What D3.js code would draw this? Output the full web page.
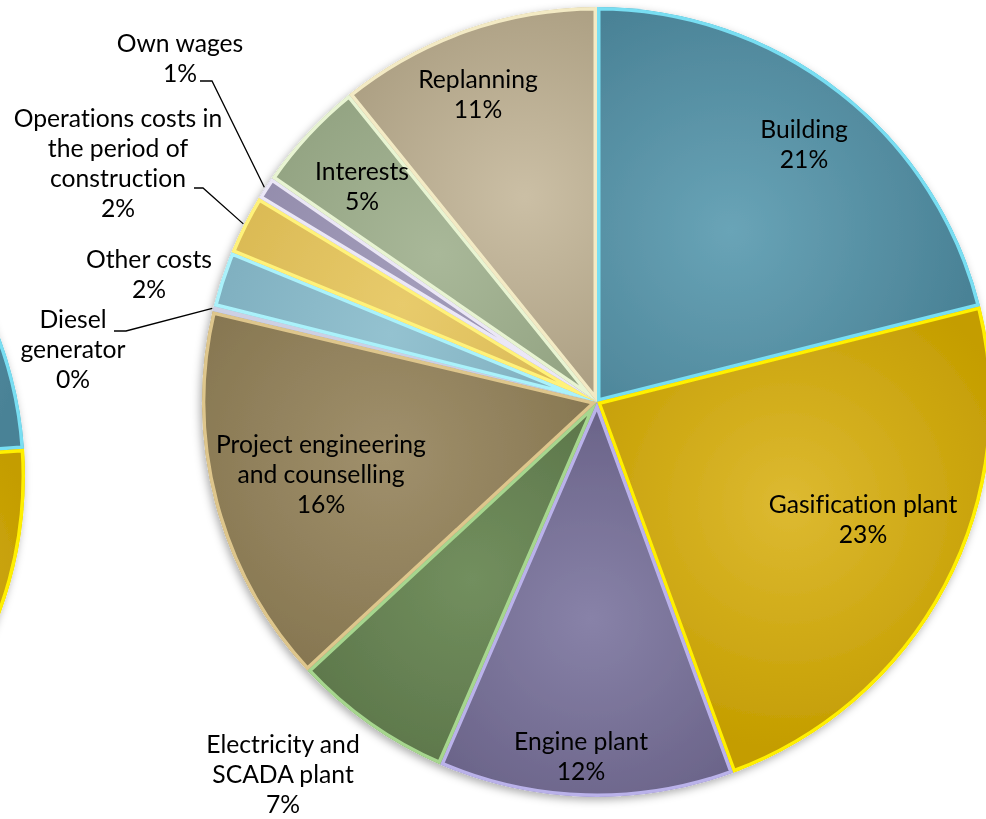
<!DOCTYPE html>
<html>
<head>
<meta charset="utf-8">
<script src="https://cdn.jsdelivr.net/npm/d3@7"></script>
<style>
  html, body { margin: 0; padding: 0; background: #ffffff; }
  svg { display: block; font-family: Lato, "Open Sans", sans-serif; font-variant-ligatures: none; }
</style>
</head>
<body>
<svg id="chart" width="986" height="819"></svg>
<script>
// Investment cost breakdown (share of total, %), clockwise from 12 o'clock
const categories = [
  "Building", "Gasification plant", "Engine plant", "Electricity and SCADA plant",
  "Project engineering and counselling", "Diesel generator", "Other costs",
  "Operations costs in the period of construction", "Own wages", "Interests", "Replanning"
];
const shares = [21.1, 23.3, 12.1, 6.6, 15.6, 0.2, 2.3, 2.45, 0.95, 4.6, 10.8];

// How each category name is wrapped on the chart
const labelLines = [
  ["Building"], ["Gasification plant"], ["Engine plant"], ["Electricity and", "SCADA plant"],
  ["Project engineering", "and counselling"], ["Diesel", "generator"], ["Other costs"],
  ["Operations costs in", "the period of", "construction"], ["Own wages"], ["Interests"], ["Replanning"]
];

// Neighbouring pie, only its first two slices fall inside the page
const secondCategories = ["Building", "Gasification plant", "Remaining items"];
const secondShares = [23.9, 22.0, 54.1];

// ---- styling and layout ----
const W = 986, H = 819;
const R = 395;
const centre = [597, 402];
const secondCentre = [-370, 476];
const fontSize = 24.7;
const lineGap = 30;

const palette = {
  "Building":                      { inner: "#69a4b7", outer: "#4a8296", edge: "#78def2" },
  "Gasification plant":            { inner: "#ddba32", outer: "#c49d00", edge: "#fff000" },
  "Engine plant":                  { inner: "#8882a8", outer: "#655e83", edge: "#bab2ea" },
  "Electricity and SCADA plant":   { inner: "#728f5e", outer: "#587146", edge: "#a6d68e" },
  "Project engineering and counselling": { inner: "#a0906c", outer: "#84744e", edge: "#dec68c" },
  "Diesel generator":              { inner: "#a4a8c4", outer: "#9296b4", edge: "#cdd0e4" },
  "Other costs":                   { inner: "#94c2d0", outer: "#78a9ba", edge: "#aaf2fb" },
  "Operations costs in the period of construction": { inner: "#e8cb6c", outer: "#d6b44c", edge: "#fff27a" },
  "Own wages":                     { inner: "#a29cba", outer: "#8f88a8", edge: "#ebe7f6" },
  "Interests":                     { inner: "#a9b899", outer: "#8c9d7b", edge: "#e8f4d2" },
  "Replanning":                    { inner: "#cbbfa5", outer: "#a6997c", edge: "#f3eac4" },
  "Remaining items":               { inner: "#cccccc", outer: "#aaaaaa", edge: "#eeeeee" }
};

// Label anchor: centre x and first baseline y
const labelAt = {
  "Building": [804, 138],
  "Gasification plant": [863, 513],
  "Engine plant": [581, 750],
  "Electricity and SCADA plant": [283, 753],
  "Project engineering and counselling": [321, 453],
  "Diesel generator": [73, 328],
  "Other costs": [149, 268],
  "Operations costs in the period of construction": [118, 127],
  "Own wages": [180, 52],
  "Interests": [362, 180],
  "Replanning": [478, 88]
};

// Leader lines: start beside the text, short horizontal run, then to the slice rim
const leaders = {
  "Own wages": [[200, 81], [212, 81]],
  "Operations costs in the period of construction": [[194, 188], [203, 188]],
  "Diesel generator": [[114, 331], [126, 331]]
};

const svg = d3.select("#chart");
const defs = svg.append("defs");

const shadow = defs.append("filter").attr("id", "pieShadow")
  .attr("x", "-10%").attr("y", "-10%").attr("width", "120%").attr("height", "120%");
shadow.append("feDropShadow")
  .attr("dx", -2).attr("dy", 3).attr("stdDeviation", 4)
  .attr("flood-color", "#000").attr("flood-opacity", 0.32);

const pie = d3.pie().sort(null).value(d => d.share);
const arc = d3.arc().innerRadius(0).outerRadius(R);
const total = d3.sum(shares);
const pct = v => Math.round(v / total * 100) + "%";

function drawPie(key, cx, cy, rows, keep) {
  const g = svg.append("g")
    .attr("transform", `translate(${cx},${cy})`)
    .attr("filter", "url(#pieShadow)");
  const arcs = pie(rows).filter((d, i) => keep(i));
  arcs.forEach((d, i) => {
    const col = palette[d.data.name];
    const mid = (d.startAngle + d.endAngle) / 2;
    const gid = `${key}-grad-${i}`, cid = `${key}-clip-${i}`;
    // lighter towards the middle of each slice
    const gr = defs.append("radialGradient").attr("id", gid)
      .attr("gradientUnits", "userSpaceOnUse")
      .attr("cx", Math.sin(mid) * R * 0.55).attr("cy", -Math.cos(mid) * R * 0.55)
      .attr("r", R * 0.62);
    gr.append("stop").attr("offset", "0%").attr("stop-color", col.inner);
    gr.append("stop").attr("offset", "100%").attr("stop-color", col.outer);
    // clipping each slice to itself keeps its light rim on the inside
    defs.append("clipPath").attr("id", cid)
      .append("path").attr("d", arc(d));
  });
  arcs.forEach((d, i) => {
    const col = palette[d.data.name];
    g.append("path")
      .attr("d", arc(d))
      .attr("fill", `url(#${key}-grad-${i})`)
      .attr("stroke", col.edge)
      .attr("stroke-width", 7)
      .attr("stroke-linejoin", "round")
      .attr("clip-path", `url(#${key}-clip-${i})`);
  });
  return arcs;
}

// neighbouring pie at the left edge
drawPie("side", secondCentre[0], secondCentre[1],
  secondCategories.map((name, i) => ({ name, share: secondShares[i] })),
  i => i < 2);

// main pie
const mainRows = categories.map((name, i) => ({ name, share: shares[i], lines: labelLines[i] }));
const mainArcs = drawPie("main", centre[0], centre[1], mainRows, () => true);

// labels
const labels = svg.append("g")
  .attr("font-size", fontSize)
  .attr("fill", "#000")
  .attr("text-anchor", "middle");

mainArcs.forEach(d => {
  const [x, y] = labelAt[d.data.name];
  const lines = d.data.lines.concat([pct(d.data.share)]);
  const t = labels.append("text").attr("x", x).attr("y", y);
  lines.forEach((s, k) => {
    t.append("tspan").attr("x", x).attr("y", y + k * lineGap).text(s);
  });
});

// leader lines to the narrow slices
const leaderG = svg.append("g")
  .attr("fill", "none").attr("stroke", "#000").attr("stroke-width", 1.3);
mainArcs.forEach(d => {
  const pts = leaders[d.data.name];
  if (!pts) return;
  const mid = (d.startAngle + d.endAngle) / 2;
  const rim = [centre[0] + Math.sin(mid) * (R + 1), centre[1] - Math.cos(mid) * (R + 1)];
  leaderG.append("path").attr("d", d3.line()(pts.concat([rim])));
});
</script>
</body>
</html>
